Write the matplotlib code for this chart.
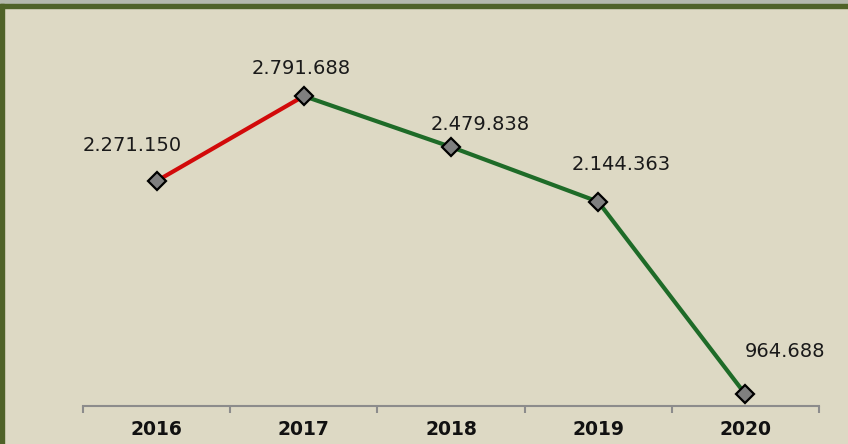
import numpy as np
import matplotlib.pyplot as plt
from matplotlib.patches import Rectangle

years = ['2016', '2017', '2018', '2019', '2020']
values = [2271150, 2791688, 2479838, 2144363, 964688]
value_labels = ['2.271.150', '2.791.688', '2.479.838', '2.144.363', '964.688']

bg = '#DDD9C4'
olive = '#4F6228'
red = '#D20A0A'
green = '#1E6B28'

fig = plt.figure(figsize=(8.48, 4.44), dpi=100)
fig.patch.set_facecolor(bg)

# frame strips along top and left
fig.patches.append(Rectangle((0, 1 - 4/444), 1, 4/444, transform=fig.transFigure,
                             color='#B4B8AC', zorder=0))
fig.patches.append(Rectangle((0, 1 - 8/444), 1, 4/444, transform=fig.transFigure,
                             color=olive, zorder=0))
fig.patches.append(Rectangle((0, 0), 4/848, 1 - 4/444, transform=fig.transFigure,
                             color=olive, zorder=0))

ax = fig.add_axes([83/848, 38/444, 736/848, 366/444])
ax.set_facecolor('none')

x = np.arange(len(years))
ax.plot(x[:2], values[:2], color=red, lw=3, solid_capstyle='butt', zorder=2)
ax.plot(x[1:], values[1:], color=green, lw=3, solid_capstyle='butt', zorder=2)
ax.plot(x, values, ls='none', marker='D', ms=9.5, mfc='#7F7F7F', mec='black',
        mew=1.6, zorder=3)

offsets = [(-24, 36), (-3, 28), (29, 22), (23, 37), (40, 43)]
for xi, v, lab, (dx, dy) in zip(x, values, value_labels, offsets):
    ax.annotate(lab, (xi, v), xytext=(dx*0.72, dy*0.72), textcoords='offset points',
                ha='center', va='center', fontsize=14, color='#1A1A1A')

ax.set_xlim(-0.5, 4.5)
ax.set_ylim(893000, 3135000)

for s in ('top', 'right', 'left'):
    ax.spines[s].set_visible(False)
ax.spines['bottom'].set_color('#8C8C8C')
ax.spines['bottom'].set_linewidth(1.5)

ax.set_yticks([])
ax.set_xticks(np.arange(-0.5, 5, 1))
ax.set_xticklabels([])
ax.set_xticks(x, minor=True)
ax.set_xticklabels(years, minor=True, fontsize=13.5, fontweight='bold', color='#111111')
ax.tick_params(axis='x', which='major', direction='out', length=5, width=1.5,
               color='#8C8C8C')
ax.tick_params(axis='x', which='minor', length=0, pad=10)

fig.savefig('out.png', dpi=100, facecolor=fig.get_facecolor())
